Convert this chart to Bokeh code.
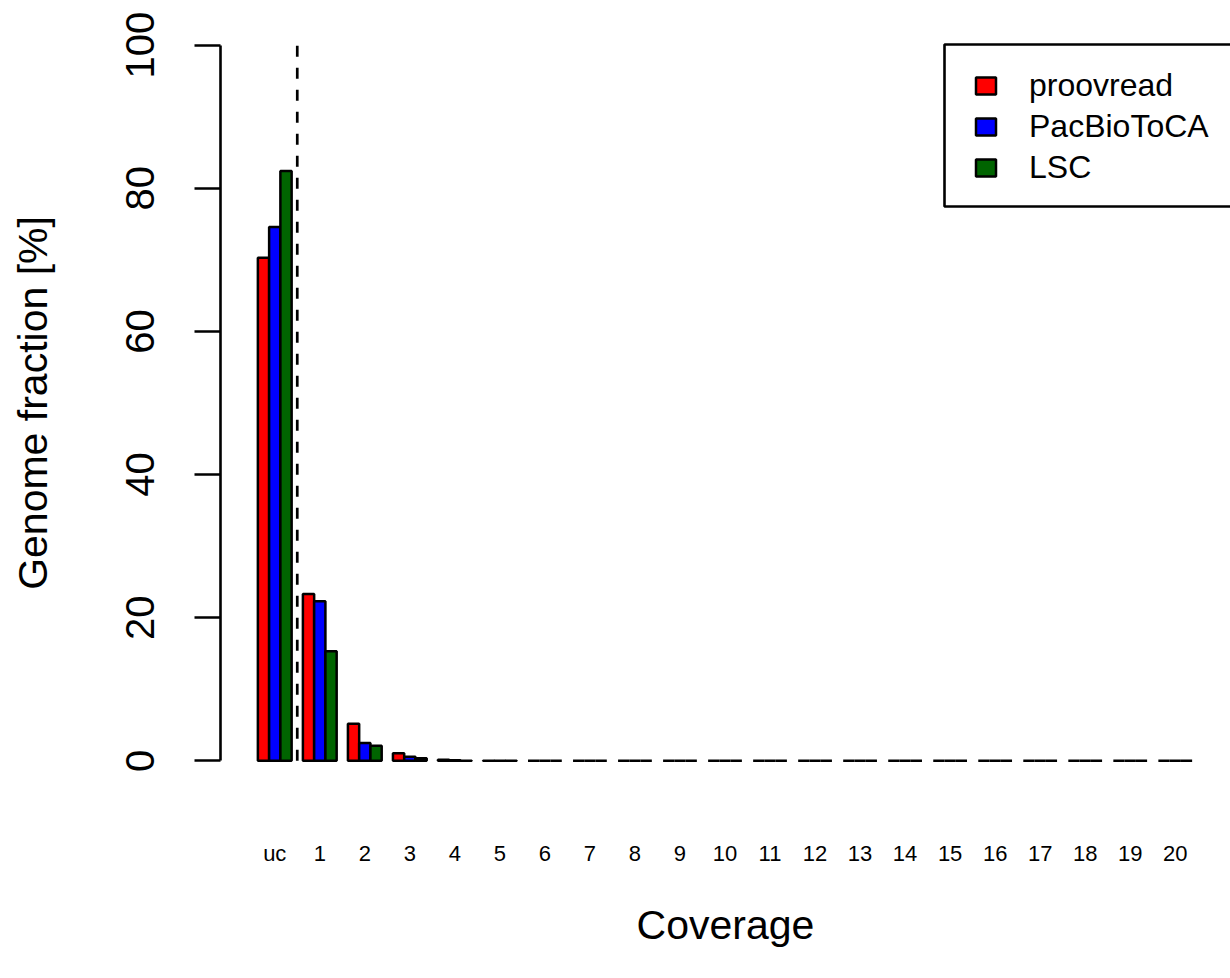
from bokeh.plotting import figure
from bokeh.models import Range1d, LinearAxis, FixedTicker, Legend, LegendItem
from bokeh.embed import file_html
from bokeh.resources import INLINE

# ---- data ----
categories = ["uc", "1", "2", "3", "4", "5", "6", "7", "8", "9", "10",
              "11", "12", "13", "14", "15", "16", "17", "18", "19", "20"]
series_names = ["proovread", "PacBioToCA", "LSC"]
proovread = [70.3, 23.3, 5.2, 1.07, 0.15, 0.03, 0, 0, 0, 0, 0,
             0, 0, 0, 0, 0, 0, 0, 0, 0, 0]
pacbiotoca = [74.6, 22.3, 2.5, 0.57, 0.07, 0.01, 0, 0, 0, 0, 0,
              0, 0, 0, 0, 0, 0, 0, 0, 0, 0]
lsc = [82.4, 15.3, 2.1, 0.37, 0.03, 0.01, 0, 0, 0, 0, 0,
       0, 0, 0, 0, 0, 0, 0, 0, 0, 0]
colors = ["#FF0000", "#0000FF", "#006400"]
y_ticks = [0, 20, 40, 60, 80, 100]

FONT = "Liberation Sans"

# ---- layout (pixels) ----
W, H = 1230, 978
FL, FR, FT, FB = 220, 1230, 16, 789          # plot-frame edges

n = len(categories)
k = len(series_names)
gw = k + 1                      # one space unit + k bars per group (R barplot beside=TRUE)
span = n * gw - 1
x_lo = 1 - 0.04 * span
x_hi = x_lo + (FR - FL) / (1229 - FL) * (n * gw + 0.04 * span - x_lo)
y_lo, y_hi = -0.04 * 100, 100 * 1.04

p = figure(width=W, height=H,
           x_range=Range1d(x_lo, x_hi), y_range=Range1d(y_lo, y_hi),
           output_backend="svg", toolbar_location=None,
           x_axis_location=None, y_axis_location=None,
           min_border_left=FL, min_border_right=W - FR,
           min_border_top=FT, min_border_bottom=H - FB)
p.outline_line_color = None
p.grid.visible = False
p.background_fill_color = "white"
p.border_fill_color = "white"


def px_to_x(px):
    return x_lo + (px - FL) / (FR - FL) * (x_hi - x_lo)


def px_to_y(py):
    return y_lo + (FB - py) / (FB - FT) * (y_hi - y_lo)


# legend frame: it runs past the right edge of the page, as in the reference
p.quad(left=[px_to_x(944)], right=[px_to_x(1320)], top=[px_to_y(44)], bottom=[px_to_y(206)],
       fill_color="white", line_color="black", line_width=2.6)

renderers = []
for j, vals in enumerate([proovread, pacbiotoca, lsc]):
    xs = [gw * i + 1.5 + j for i in range(n)]
    r = p.vbar(x=xs, top=vals, bottom=0, width=1,
               fill_color=colors[j], line_color="black", line_width=2.5)
    renderers.append(r)

# dashed separator between "uc" and the coverage groups
sep = gw * 1 + 0.5
p.segment(x0=[sep], y0=[0], x1=[sep], y1=[100],
          line_color="black", line_width=2.7, line_dash="11 11")

# y axis
yaxis = LinearAxis(ticker=FixedTicker(ticks=y_ticks), bounds=(0, 100),
                   axis_label="Genome fraction [%]")
yaxis.axis_line_width = 2.6
yaxis.major_tick_line_width = 2.6
yaxis.major_tick_out = 26
yaxis.major_tick_in = 0
yaxis.minor_tick_line_color = None
yaxis.major_label_orientation = "vertical"
yaxis.major_label_text_font = FONT
yaxis.major_label_text_font_size = "40px"
yaxis.major_label_text_color = "black"
yaxis.major_label_standoff = 40
yaxis.axis_label_text_font = FONT
yaxis.axis_label_text_font_size = "41px"
yaxis.axis_label_text_font_style = "normal"
yaxis.axis_label_text_color = "black"
yaxis.axis_label_standoff = 68
p.add_layout(yaxis, "left")

# x axis (labels only)
centers = [gw * i + 2.5 for i in range(n)]
xaxis = LinearAxis(ticker=FixedTicker(ticks=centers),
                   major_label_overrides={c: lab for c, lab in zip(centers, categories)},
                   axis_label="Coverage")
xaxis.axis_line_color = None
xaxis.major_tick_line_color = None
xaxis.minor_tick_line_color = None
xaxis.major_tick_out = 0
xaxis.major_tick_in = 0
xaxis.major_label_text_font = FONT
xaxis.major_label_text_font_size = "22px"
xaxis.major_label_text_color = "black"
xaxis.major_label_standoff = 51
xaxis.axis_label_text_font = FONT
xaxis.axis_label_text_font_size = "41px"
xaxis.axis_label_text_font_style = "normal"
xaxis.axis_label_text_color = "black"
xaxis.axis_label_standoff = 33
p.add_layout(xaxis, "below")

legend = Legend(items=[LegendItem(label=nm, renderers=[r]) for nm, r in zip(series_names, renderers)],
                location=(753, 603), padding=0, spacing=4, margin=0,
                glyph_width=25, glyph_height=21, label_standoff=31,
                label_text_font=FONT, label_text_font_size="32px",
                label_text_color="black",
                border_line_color=None,
                background_fill_alpha=0)
p.add_layout(legend)

open("out.html", "w").write(file_html(p, INLINE))
